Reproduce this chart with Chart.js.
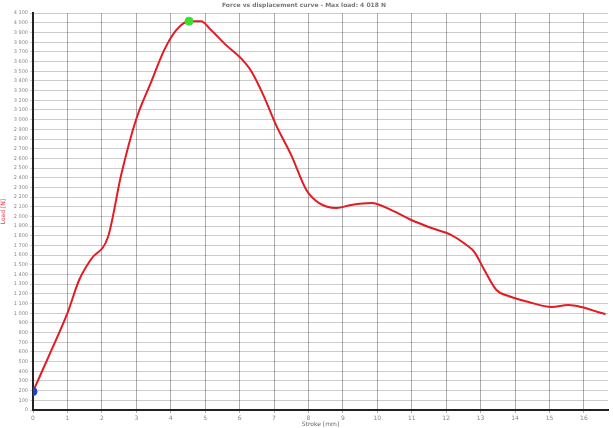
<!DOCTYPE html>
<html>
<head>
<meta charset="utf-8">
<script src="https://cdn.jsdelivr.net/npm/chart.js@4"></script>
<style>
html,body{margin:0;padding:0;background:#fff;}
#wrap{width:613px;height:428px;}
</style>
</head>
<body>
<div id="wrap"><canvas id="c" width="613" height="428"></canvas></div>
<script>
// Data
const strokeMm = [0, 0.5, 1.0, 1.34, 1.69, 2.18, 2.56, 2.99, 3.43, 3.81, 4.16, 4.53, 4.88, 5.17, 5.61, 6.05, 6.34, 6.69, 7.06, 7.5, 7.94, 8.31, 8.81, 9.24, 9.83, 10.41, 10.99, 11.57, 12.15, 12.59, 12.82, 13.11, 13.46, 13.81, 14.39, 15.06, 15.55, 15.93, 16.51, 16.63];
const loadN    = [190, 590, 1000, 1343, 1560, 1790, 2428, 2996, 3388, 3719, 3926, 4018, 4018, 3926, 3770, 3630, 3500, 3254, 2944, 2634, 2273, 2138, 2087, 2118, 2138, 2066, 1963, 1880, 1808, 1705, 1632, 1446, 1240, 1178, 1116, 1064, 1085, 1064, 1002, 992];
const startPoint = [{x: 0, y: 190}];
const peakPoint  = [{x: 4.53, y: 4018}];
const xTicks = [0,1,2,3,4,5,6,7,8,9,10,11,12,13,14,15,16];
const yMax = 4100, yStep = 100, xMax = 16.7;
const titleText = "Force vs displacement curve - Max load: 4 018 N";
const xTitle = "Stroke [mm]";
const yTitle = "Load [N]";

const linePts = strokeMm.map((x, i) => ({x: x, y: loadN[i]}));
const fmt = v => String(v).replace(/\B(?=(\d{3})+(?!\d))/g, " ");

new Chart(document.getElementById('c'), {
  type: 'scatter',
  data: {
    datasets: [
      {data: linePts, showLine: true, borderColor: '#e31b23', borderWidth: 2, pointRadius: 0,
       cubicInterpolationMode: 'monotone', order: 2},
      {data: startPoint, pointRadius: 4, pointBackgroundColor: '#1f3fd6', pointBorderColor: '#1f3fd6', order: 1},
      {data: peakPoint, pointRadius: 4, pointBackgroundColor: '#37e02c', pointBorderColor: '#37e02c', order: 1}
    ]
  },
  options: {
    responsive: false,
    animation: false,
    layout: {padding: {left: 0, right: 5, top: 0, bottom: 0}},
    plugins: {
      legend: {display: false},
      tooltip: {enabled: false},
      title: {display: true, text: titleText, color: '#777', font: {family: 'DejaVu Sans', size: 6}, padding: {top: 2, bottom: 4}}
    },
    scales: {
      x: {
        type: 'linear', min: 0, max: xMax,
        afterBuildTicks: s => { s.ticks = xTicks.map(v => ({value: v})); },
        afterFit: s => { s.height = 18; },
        ticks: {stepSize: 1, includeBounds: false, color: '#888', font: {family: 'DejaVu Sans', size: 6}, padding: 2, maxRotation: 0},
        grid: {color: 'rgba(0,0,0,0.32)', lineWidth: 1, tickLength: 3},
        border: {color: '#222', width: 2},
        title: {display: true, text: xTitle, color: '#666', font: {family: 'DejaVu Sans', size: 6}, padding: {top: 0, bottom: 0}}
      },
      y: {
        type: 'linear', min: 0, max: yMax,
        afterFit: s => { s.width = 33; },
        ticks: {stepSize: yStep, color: '#888', font: {family: 'DejaVu Sans', size: 5}, padding: 2, autoSkip: false,
                callback: v => fmt(v)},
        grid: {color: 'rgba(0,0,0,0.2)', lineWidth: 1, tickLength: 3},
        border: {color: '#222', width: 2},
        title: {display: true, text: yTitle, color: '#e8404a', font: {family: 'DejaVu Sans', size: 6}, padding: {top: 0, bottom: 0}}
      }
    }
  }
});
</script>
</body>
</html>
